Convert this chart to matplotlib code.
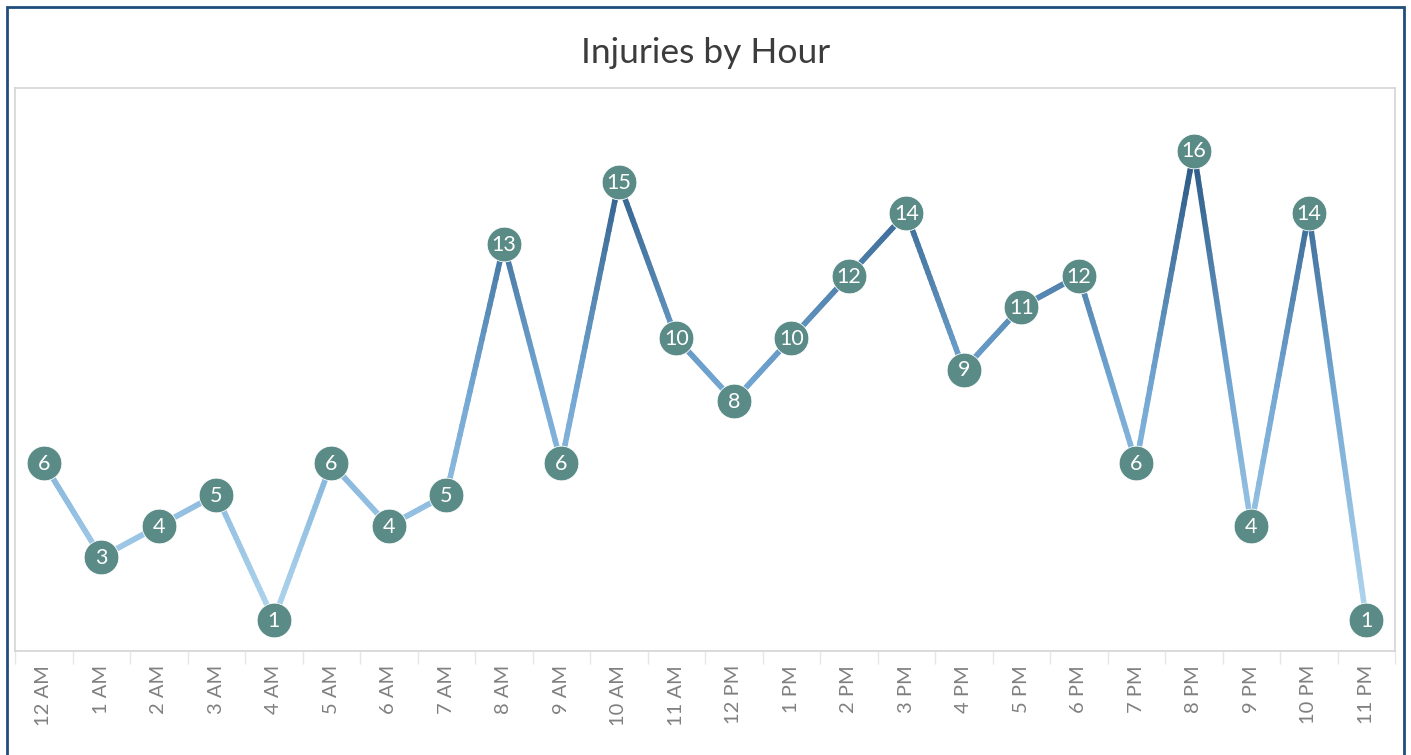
import numpy as np
import matplotlib.pyplot as plt
from matplotlib.collections import LineCollection
from matplotlib.colors import LinearSegmentedColormap
from matplotlib.patches import Rectangle

hours = ['12 AM', '1 AM', '2 AM', '3 AM', '4 AM', '5 AM', '6 AM', '7 AM',
         '8 AM', '9 AM', '10 AM', '11 AM', '12 PM', '1 PM', '2 PM', '3 PM',
         '4 PM', '5 PM', '6 PM', '7 PM', '8 PM', '9 PM', '10 PM', '11 PM']
injuries = [6, 3, 4, 5, 1, 6, 4, 5, 13, 6, 15, 10, 8, 10, 12, 14,
            9, 11, 12, 6, 16, 4, 14, 1]

W, H = 1411, 755
fig = plt.figure(figsize=(W / 100, H / 100), dpi=100)
ax = fig.add_axes([15 / W, 1 - 651 / H, 1380 / W, 563 / H])

x = np.arange(len(hours))
y = np.array(injuries, dtype=float)

# gradient line: split each segment into small pieces colored by value
cmap = LinearSegmentedColormap.from_list('blues', ['#b0d6ee', '#72a6d2', '#2a5783'])
pts_x, pts_y = [], []
for i in range(len(x) - 1):
    t = np.linspace(0, 1, 30)
    pts_x.extend(x[i] + t * (x[i + 1] - x[i]))
    pts_y.extend(y[i] + t * (y[i + 1] - y[i]))
pts = np.column_stack([pts_x, pts_y])
segs = np.stack([pts[:-1], pts[1:]], axis=1)
vals = (pts[:-1, 1] + pts[1:, 1]) / 2
lc = LineCollection(segs, colors=cmap((vals - 1) / 15), linewidths=4.0,
                    capstyle='round', zorder=2)
ax.add_collection(lc)

ax.plot(x, y, 'o', ms=25, color='#5a8b86', mec='white', mew=0.6, zorder=3)
for xi, yi in zip(x, injuries):
    ax.text(xi, yi - 0.03, str(yi), ha='center', va='center', color='white',
            fontsize=15.5, family='Lato', zorder=4)

ax.set_xlim(-0.5, 23.5)
ax.set_ylim(0, 18)
ax.set_yticks([])
ax.set_xticks(x)
ax.set_xticklabels(hours, rotation=90, color='#808080', fontsize=14.5, family='Lato')
ax.set_xticks(np.arange(-0.5, 24, 1), minor=True)
ax.tick_params(axis='x', which='major', length=0, pad=10)
ax.tick_params(axis='x', which='minor', length=9, color='#e6e6e6', width=1)
for s in ax.spines.values():
    s.set_color('#d4d4d4')
    s.set_linewidth(1.2)

fig.text(706 / W, 1 - 53 / H, 'Injuries by Hour', ha='center', va='center',
         fontsize=25.5, color='#3c3c3c', family='Lato')

fig.patches.append(Rectangle((7 / W, -0.01), 1397 / W, 1 - 7 / H + 0.01,
                             transform=fig.transFigure, fill=False,
                             ec='#1f4e7a', lw=2))

fig.savefig('out.png', dpi=100)
